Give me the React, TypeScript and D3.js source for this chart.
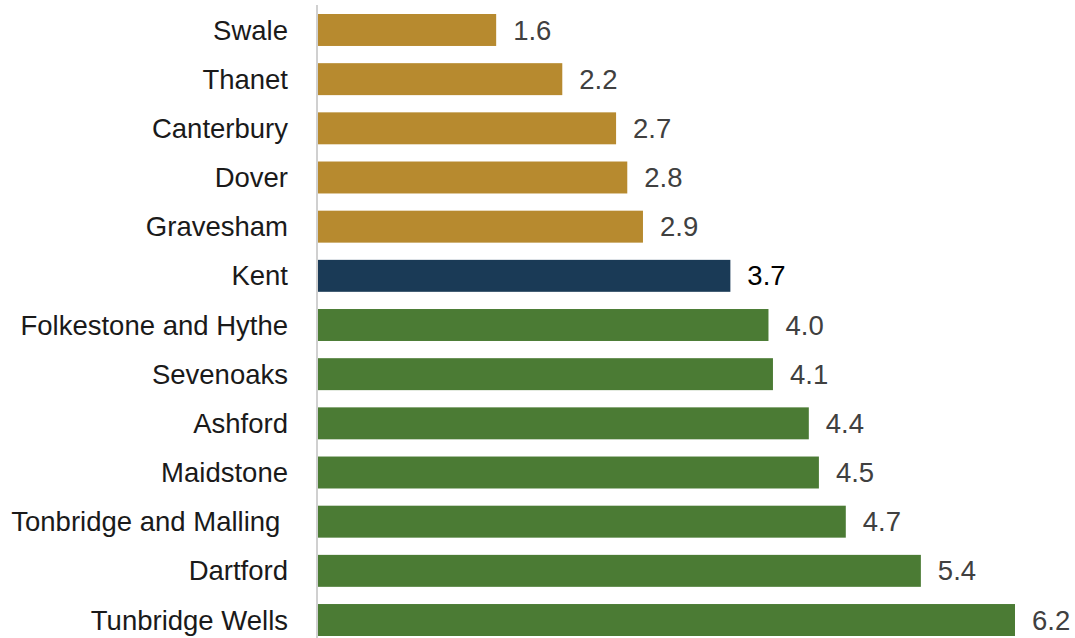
import React from "react";
import * as d3 from "d3";

const categories = [
  "Swale",
  "Thanet",
  "Canterbury",
  "Dover",
  "Gravesham",
  "Kent",
  "Folkestone and Hythe",
  "Sevenoaks",
  "Ashford",
  "Maidstone",
  "Tonbridge and Malling ",
  "Dartford",
  "Tunbridge Wells",
];
const values = [1.59, 2.18, 2.66, 2.76, 2.9, 3.68, 4.02, 4.06, 4.38, 4.47, 4.71, 5.38, 6.22];
const groups = ["low", "low", "low", "low", "low", "kent", "high", "high", "high", "high", "high", "high", "high"];

const colors: Record<string, string> = { low: "#B78A2F", kent: "#1A3A56", high: "#4B7B34" };

const W = 1075;
const H = 638;
const axisX = 318;

export default function App() {
  const x = d3.scaleLinear().domain([0, 6.22]).range([axisX, 1015]);
  const y = d3.scaleBand<string>().domain(categories).range([5.4, 644.6]).paddingInner(0.35).paddingOuter(0.175);
  const font = "'Liberation Sans', Arial, Helvetica, sans-serif";
  return (
    <svg width={W} height={H} style={{ position: "absolute", left: 0, top: 0, background: "#fff" }}>
      {categories.map((c, i) => {
        const yy = y(c)!;
        const bw = y.bandwidth();
        const cy = yy + bw / 2;
        return (
          <g key={c}>
            <rect x={x(0)} y={yy} width={x(values[i]) - x(0)} height={bw} fill={colors[groups[i]]} />
            <text
              x={axisX - 30}
              y={cy}
              dy="0.35em"
              textAnchor="end"
              fontFamily={font}
              fontSize={27.5}
              fill="#1a1a1a"
              style={{ whiteSpace: "pre" }}
            >
              {c}
            </text>
            <text
              x={x(values[i]) + 17}
              y={cy}
              dy="0.35em"
              fontFamily={font}
              fontSize={27.5}
              fill={groups[i] === "kent" ? "#000" : "#404040"}
            >
              {values[i].toFixed(1)}
            </text>
          </g>
        );
      })}
      <line x1={axisX - 1} x2={axisX - 1} y1={5} y2={H} stroke="#d0d0d0" strokeWidth={2} />
    </svg>
  );
}
